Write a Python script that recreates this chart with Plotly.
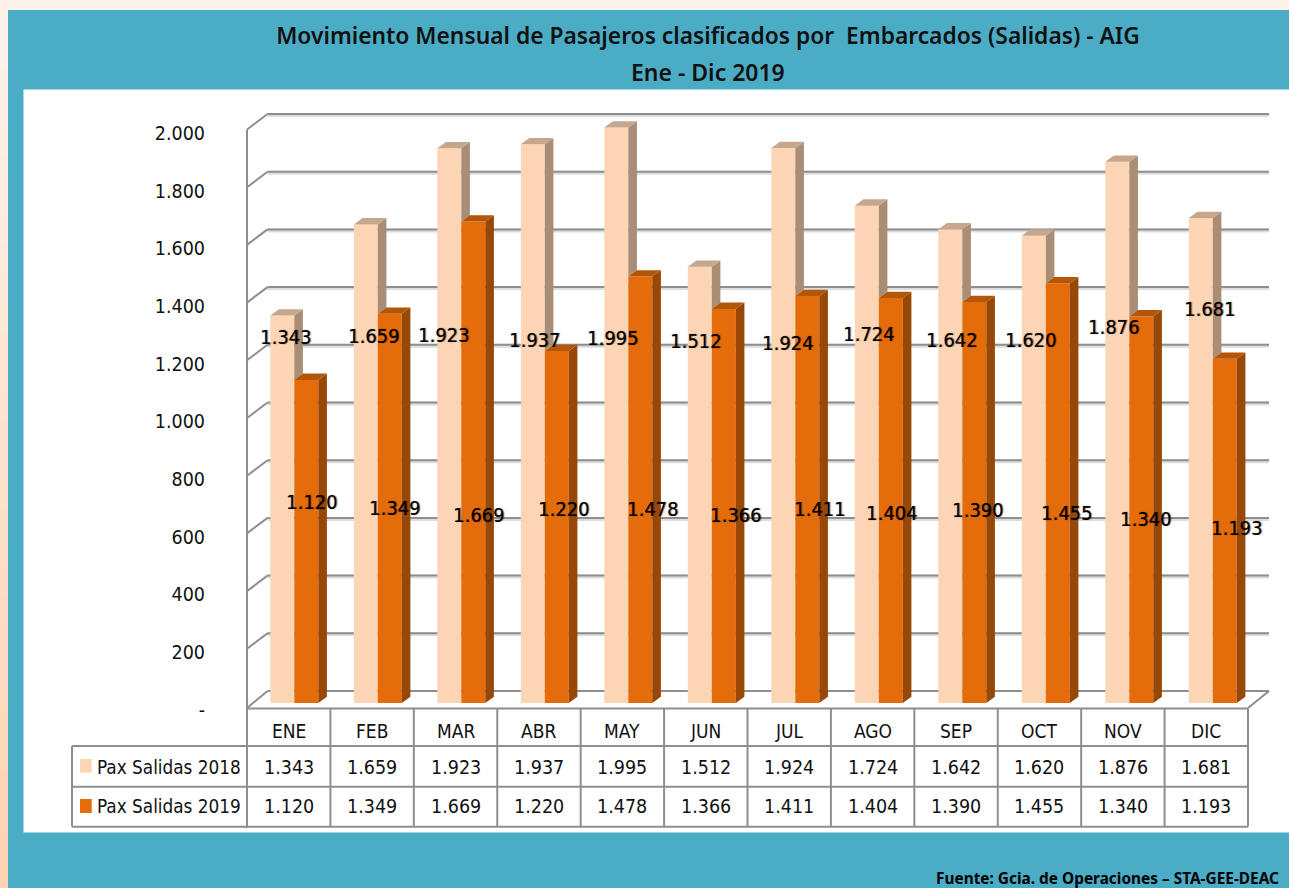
import plotly.graph_objects as go

# ---------- data ----------
months = ["ENE", "FEB", "MAR", "ABR", "MAY", "JUN", "JUL", "AGO", "SEP", "OCT", "NOV", "DIC"]
pax_2018 = [1343, 1659, 1923, 1937, 1995, 1512, 1924, 1724, 1642, 1620, 1876, 1681]
pax_2019 = [1120, 1349, 1669, 1220, 1478, 1366, 1411, 1404, 1390, 1455, 1340, 1193]
y_ticks = [0, 200, 400, 600, 800, 1000, 1200, 1400, 1600, 1800, 2000]
name_2018 = "Pax Salidas 2018"
name_2019 = "Pax Salidas 2019"
title_1 = "Movimiento Mensual de Pasajeros clasificados por  Embarcados (Salidas) - AIG"
title_2 = "Ene - Dic 2019"
footer = "Fuente: Gcia. de Operaciones – STA-GEE-DEAC"

# ---------- page geometry (pixels) ----------
W, H = 1289, 888
L, R, T, B = 206, 9, 100, 168
X0, XSTEP = 294.3, 83.5          # bar-pair centre of first month, month pitch
Y0, YSCALE = 703.0, 0.2885       # px of value 0 in bars plane, px per unit
BAR_PX = 24
DX_PX, DY_PX = 8.6, 6.3          # bar depth
WALL_DX, WALL_DY = 20.5, 12.0    # back wall shift relative to the bar plane (y)
FRONT_X, TABLE_R = 247.0, 1248.0
FRONT_DY = 3.5
COL = (TABLE_R - FRONT_X) / 12
TEAL, GRID = "#4BACC6", "#8E8E8E"
C18, C18_SIDE, C18_TOP = "#FCD5B5", "#A98D75", "#C6A78D"
C19, C19_SIDE, C19_TOP = "#E46C0A", "#974806", "#B35608"
FONT = "DejaVu Sans Condensed, Noto Sans, sans-serif"
TITLE_FONT = "Noto Sans, sans-serif"

px_x = lambda p: (p - X0) / XSTEP
px_y = lambda p: (Y0 - p) / YSCALE
pap_x = lambda p: (p - L) / (W - L - R)
pap_y = lambda p: 1 - (p - T) / (H - T - B)
fmt = lambda v: f"{v:,}".replace(",", ".")

# ---------- background ----------
shapes = []
def rect(x0, y0, x1, y1, color):
    shapes.append(dict(type="rect", xref="paper", yref="paper", layer="below",
                       x0=pap_x(x0), x1=pap_x(x1), y0=pap_y(y0), y1=pap_y(y1),
                       fillcolor=color, line_width=0))
def seg(x0, y0, x1, y1, width=2, color=GRID):
    shapes.append(dict(type="line", xref="paper", yref="paper", layer="below",
                       x0=pap_x(x0), x1=pap_x(x1), y0=pap_y(y0), y1=pap_y(y1),
                       line=dict(color=color, width=width)))

rect(0, 0, W, H, TEAL)
rect(0, 0, W, 10, "#FDF3EB")
n = 30
for k in range(n):
    t = k / (n - 1)
    c = "rgb(%d,%d,%d)" % (253.5, 243 - t * 32, 235 - t * 58)
    rect(0, 10 + k * (H - 10) / n, 8, 10 + (k + 1) * (H - 10) / n + 1, c)
rect(23.5, 89.5, W, 832.5, "#FFFFFF")

# ---------- walls (from the axis ticks) ----------
for v in y_ticks:
    back = Y0 - v * YSCALE - WALL_DY
    front = Y0 - v * YSCALE + FRONT_DY
    if v > 0:
        seg(FRONT_X + WALL_DX, back + 1, 1269, back + 1, 4, "#DDDDDD")
        seg(FRONT_X + WALL_DX, back, 1269, back)
        seg(FRONT_X, front, FRONT_X + WALL_DX, back)
    else:
        seg(FRONT_X + WALL_DX, back, 1269, back)
        seg(FRONT_X, front + 1.5, FRONT_X + WALL_DX, back)
        seg(TABLE_R, front + 1.5, 1269, back)
seg(FRONT_X, Y0 - 2000 * YSCALE + FRONT_DY, FRONT_X, 828)

# ---------- table ----------
TOP, R1, R2, R3 = 708.5, 746, 786.7, 826.7
seg(FRONT_X, TOP, TABLE_R, TOP)
for yy in (R1, R2, R3):
    seg(72, yy, TABLE_R, yy)
seg(72, R1, 72, R3)
for i in range(13):
    seg(FRONT_X + i * COL, TOP, FRONT_X + i * COL, R3)
rect(80, 759, 91.7, 772.7, C18)
rect(80, 799, 91.7, 813, C19)

annots = []
def text(px, py, s, size=18, anchor="center", color="#111111", family=FONT, **extra):
    annots.append(dict(xref="paper", yref="paper", x=pap_x(px), y=pap_y(py), text=s,
                       showarrow=False, xanchor=anchor, yanchor="middle",
                       font=dict(family=family, size=size, color=color, **extra)))

for i, m in enumerate(months):
    cx = FRONT_X + (i + 0.5) * COL
    text(cx, 731, m, 19)
    text(cx, 767, fmt(pax_2018[i]), 19.5)
    text(cx, 806, fmt(pax_2019[i]), 19.5)
text(95, 767, name_2018, 18.8, "left")
text(95, 806, name_2019, 18.8, "left")

# ---------- data labels, placed where the source chart has them ----------
lab18_x = [286, 374, 444, 535, 613, 696, 788, 869, 952, 1031, 1114, 1210]
lab18_y = [337, 336, 335, 340, 338, 341, 343, 334, 340, 340, 327, 309]
lab19_x = [312, 395, 479, 564, 653, 736, 820, 892, 978, 1067, 1146, 1237]
lab19_y = [502, 508, 515, 509, 509, 515, 509, 513, 510, 513, 519, 528]
for xs, ys, vals in ((lab18_x, lab18_y, pax_2018), (lab19_x, lab19_y, pax_2019)):
    for px, py, v in zip(xs, ys, vals):
        text(px, py, fmt(v), 20, color="#000000", shadow="1px 0px 1px rgba(0,0,0,0.55)")

text(708, 71.5, title_2, 23, family=TITLE_FONT, color="#111111", weight=600)
text(934, 879, "<b>" + footer + "</b>", 15.4, "left", "#000000", TITLE_FONT)

# ---------- marks ----------
xs = list(range(len(months)))
half = BAR_PX / XSTEP
dx, dy = DX_PX / XSTEP, DY_PX / YSCALE

def faces(left, values, lower, side_col, top_col, name):
    sx, sy, tx, ty = [], [], [], []
    for i, (v, low) in enumerate(zip(values, lower)):
        a = i + left
        b = a + half
        sx += [b, b + dx, b + dx, b, b, None]
        sy += [v, v + dy, low + dy, low, v, None]
        tx += [a, a + dx, b + dx, b, a, None]
        ty += [v, v + dy, v + dy, v, v, None]
    line = dict(width=0)
    return [go.Scatter(x=sx, y=sy, mode="lines", fill="toself", fillcolor=side_col, line=line,
                       hoverinfo="skip", showlegend=False, name=name + " lateral"),
            go.Scatter(x=tx, y=ty, mode="lines", fill="toself", fillcolor=top_col, line=line,
                       hoverinfo="skip", showlegend=False, name=name + " superior")]

fig = go.Figure()
fig.add_bar(x=xs, y=pax_2018, name=name_2018, marker=dict(color=C18, line_width=0), showlegend=False)
fig.add_bar(x=xs, y=pax_2019, name=name_2019, marker=dict(color=C19, line_width=0), showlegend=False)
for t in faces(-half, pax_2018, pax_2019, C18_SIDE, C18_TOP, name_2018):
    fig.add_trace(t)
for t in faces(0, pax_2019, [0] * 12, C19_SIDE, C19_TOP, name_2019):
    fig.add_trace(t)

fig.update_layout(
    width=W, height=H, margin=dict(l=L, r=R, t=T, b=B, pad=0),
    paper_bgcolor=TEAL, plot_bgcolor="rgba(0,0,0,0)", showlegend=False,
    barmode="group", bargap=1 - 2 * half, bargroupgap=0,
    title=dict(text=title_1, x=708 / W, xanchor="center", y=1 - 36 / H, yanchor="middle",
               font=dict(family=TITLE_FONT, size=22.8, color="#111111", weight=600)),
    xaxis=dict(range=[px_x(L), px_x(W - R)], tickvals=xs, ticktext=months,
               showticklabels=False, showgrid=False, zeroline=False, showline=False, ticks=""),
    yaxis=dict(range=[px_y(H - B), px_y(T)], tickvals=y_ticks,
               ticktext=["-"] + [fmt(v) for v in y_ticks[1:]],
               showgrid=False, zeroline=False, showline=False, ticks="",
               ticklabelshift=7,
               tickfont=dict(family=FONT, size=19.5, color="#111111")),
    shapes=shapes, annotations=annots, hovermode=False,
)
fig.write_html("out.html", config=dict(displayModeBar=False),
               post_script="document.body.style.margin='0';document.body.style.overflow='hidden';")
